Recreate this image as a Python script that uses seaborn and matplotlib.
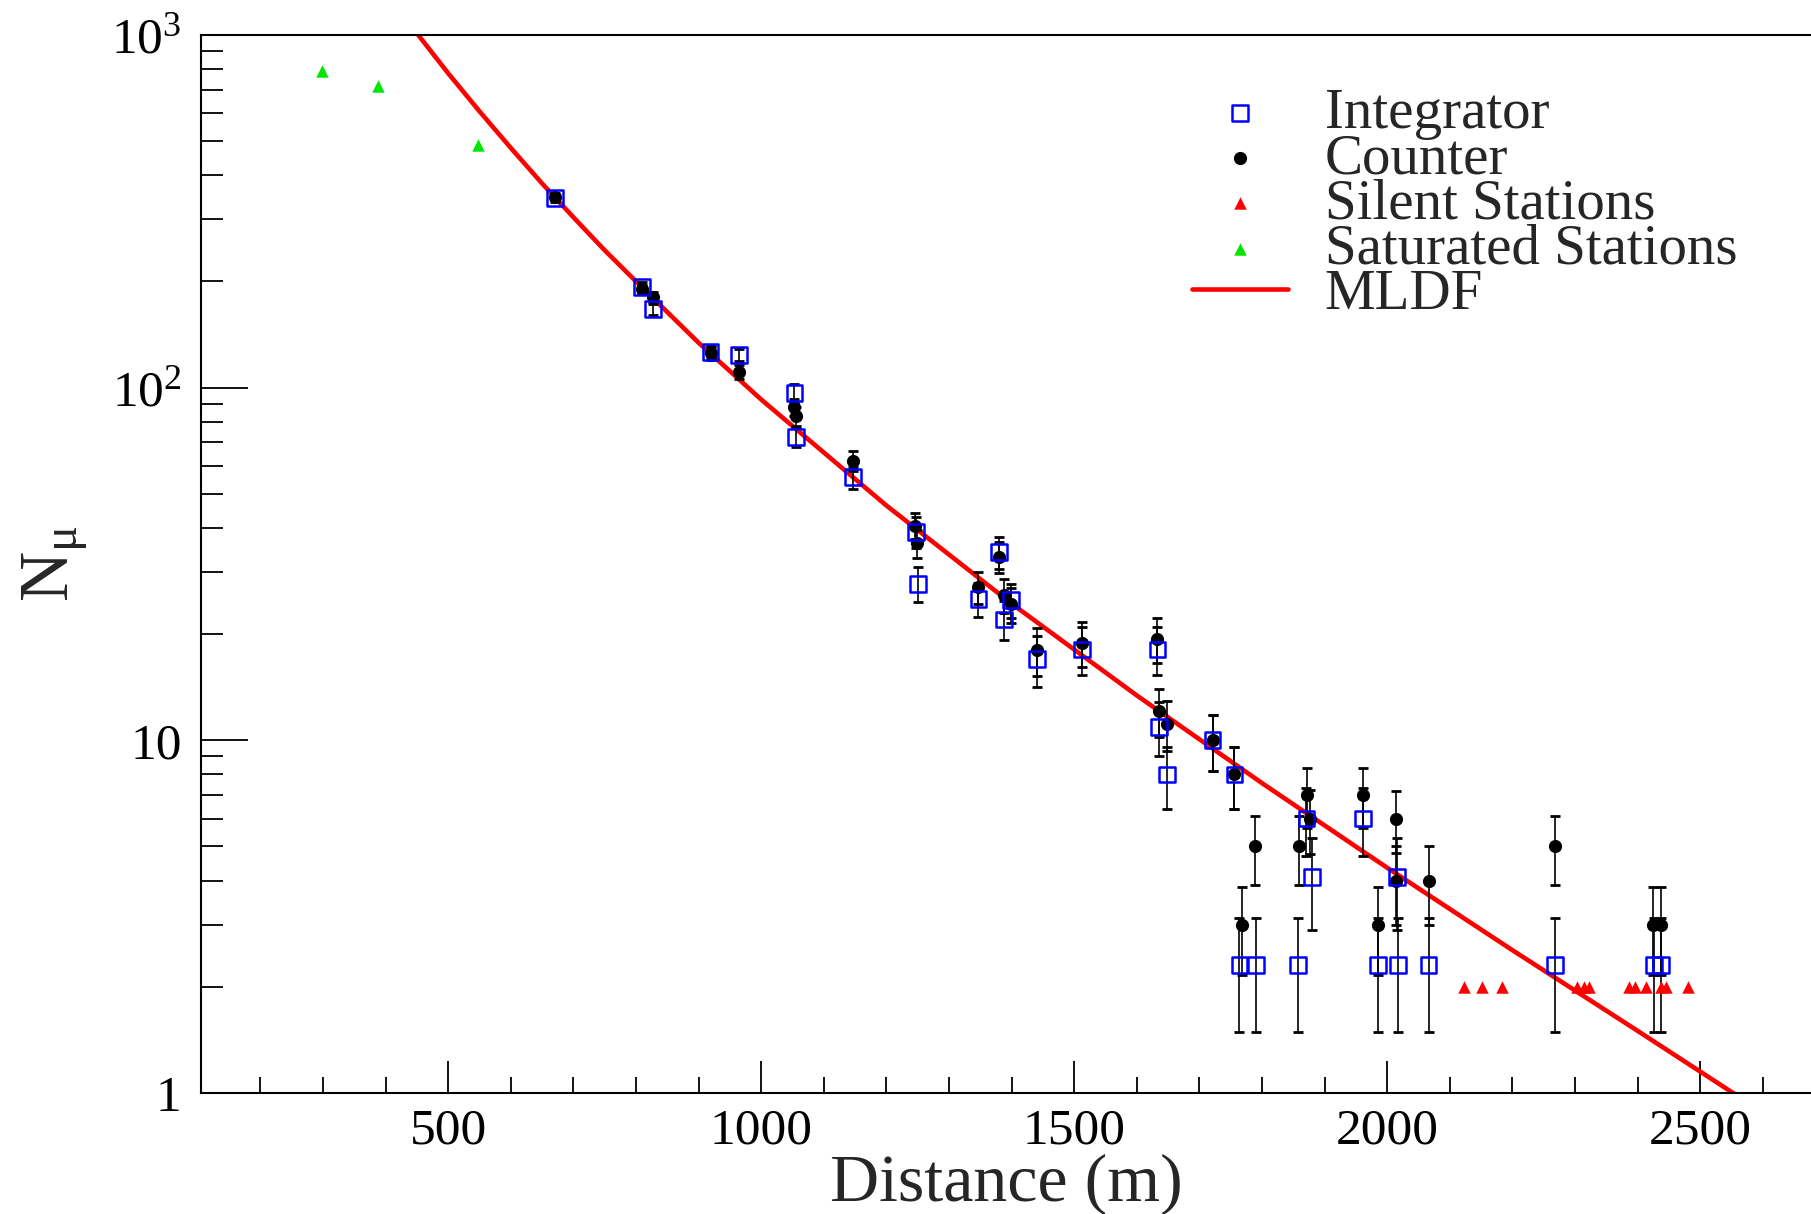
import matplotlib
matplotlib.use("Agg")
import matplotlib.pyplot as plt
import seaborn as sns
from matplotlib.ticker import FixedLocator, FixedFormatter, MultipleLocator, LogLocator, NullFormatter

# Integrator stations (distance in m, muon number, error)
int_dist = [670, 810, 827, 919, 965, 1053, 1055, 1146, 1247, 1251, 1347, 1380, 1388, 1399,
            1441, 1513, 1633, 1635, 1648, 1721, 1756, 1764, 1790, 1858, 1871, 1880, 1961,
            1985, 2015, 2017, 2066, 2268, 2426, 2437]
int_n = [344, 193, 167, 126, 124, 96.6, 72.5, 55.7, 39, 27.8, 25.2, 34.1, 22.0, 25.0,
         17.0, 18.1, 18.1, 10.9, 8.0, 10.0, 8.0, 2.31, 2.31, 2.31, 6.0, 4.1, 6.0,
         2.31, 4.1, 2.31, 2.31, 2.31, 2.31, 2.31]
int_err = [8, 6, 6, 5, 5, 6, 4.5, 4, 4, 3.2, 2.8, 3.5, 2.8, 2.8,
           2.8, 2.8, 2.8, 1.9, 1.6, 1.8, 1.6, 0.82, 0.82, 0.82, 1.3, 1.2, 1.3,
           0.82, 1.2, 0.82, 0.82, 0.82, 0.82, 0.82]

# Counter stations
cnt_dist = [670, 810, 827, 919, 965, 1053, 1055, 1146, 1245, 1249, 1347, 1380, 1388, 1399,
            1441, 1513, 1633, 1635, 1648, 1721, 1756, 1768, 1789, 1859, 1872, 1876, 1961,
            1986, 2014, 2014, 2066, 2268, 2425, 2438]
cnt_n = [348, 190, 181, 125, 111, 88, 83, 62, 40.6, 36.2, 27.2, 33.1, 25.8, 24.3,
         18, 18.9, 19.4, 12.1, 11.1, 10.0, 8.0, 3.0, 5.0, 5.0, 7.0, 6.0, 7.0,
         3.0, 6.0, 4.0, 4.0, 5.0, 3.0, 3.0]
cnt_err = [8, 6, 6, 5, 5, 5, 5, 4, 3.5, 3.3, 2.8, 3.3, 2.8, 2.8,
           2.8, 2.8, 2.8, 1.9, 1.8, 1.8, 1.6, 0.84, 1.1, 1.1, 1.35, 1.25, 1.35,
           0.84, 1.2, 1.0, 1.0, 1.1, 0.84, 0.84]

# Silent and saturated stations
silent_dist = [2123, 2152, 2183, 2303, 2314, 2322, 2387, 2396, 2413, 2438, 2446, 2481]
silent_n = [2.0] * 12
sat_dist = [299, 387, 548]
sat_n = [792, 718, 489]

# MLDF fit
mldf_dist = [452, 500, 550, 600, 650, 700, 750, 800, 900, 1000, 1200, 1400, 1600,
             1800, 2000, 2200, 2400, 2560]
mldf_n = [1000, 778, 607, 478, 379, 304, 245, 200, 134, 92.5, 46.3, 24.4, 13.4,
          7.56, 4.35, 2.54, 1.50, 0.98]

sns.set_theme(style="white")
plt.rcParams['font.family'] = ['Liberation Serif', 'DejaVu Serif']
plt.rcParams['mathtext.fontset'] = 'custom'
plt.rcParams['mathtext.rm'] = 'Liberation Serif'
plt.rcParams['mathtext.it'] = 'Liberation Serif:italic'

fig = plt.figure(figsize=(18.11, 12.14), dpi=100)
ax = fig.add_axes([0.111, 0.0997, 0.889, 0.8715])

sns.lineplot(x=mldf_dist, y=mldf_n, ax=ax, color='#ff0000', linewidth=3.3,
             label='MLDF', zorder=2, sort=False)

ax.errorbar(cnt_dist, cnt_n, yerr=cnt_err, fmt='none', ecolor='black',
            elinewidth=1.2, capsize=3.5, capthick=2, zorder=2.5)
ax.errorbar(int_dist, int_n, yerr=int_err, fmt='none', ecolor='black',
            elinewidth=1.2, capsize=3.5, capthick=2, zorder=2.5)

sns.scatterplot(x=cnt_dist, y=cnt_n, ax=ax, marker='o', color='black',
                edgecolor='black', s=90, linewidth=0, label='Counter', zorder=3)
sns.scatterplot(x=int_dist, y=int_n, ax=ax, marker='s', color='none',
                edgecolor='#0000ff', s=130, linewidth=1.8, label='Integrator', zorder=4)
sns.scatterplot(x=silent_dist, y=silent_n, ax=ax, marker='^', color='#ff0000',
                edgecolor='#ff0000', s=80, linewidth=0, label='Silent Stations', zorder=3)
sns.scatterplot(x=sat_dist, y=sat_n, ax=ax, marker='^', color='#00e600',
                edgecolor='#00e600', s=80, linewidth=0, label='Saturated Stations', zorder=3)

ax.set_yscale('log')
ax.set_xlim(105, 2677)
ax.set_ylim(1, 1000)

ax.xaxis.set_major_locator(MultipleLocator(500))
ax.xaxis.set_minor_locator(MultipleLocator(100))
ax.yaxis.set_major_locator(FixedLocator([1, 10, 100, 1000]))
ax.yaxis.set_major_formatter(FixedFormatter(['1', '10', '$10^{2}$', '$10^{3}$']))
ax.yaxis.set_minor_locator(LogLocator(base=10, subs=range(2, 10)))
ax.yaxis.set_minor_formatter(NullFormatter())

ax.tick_params(which='both', direction='in', width=1.3, colors='black',
               bottom=True, left=True, top=False, right=False, labelsize=37, pad=14)
ax.tick_params(axis='x', which='major', pad=11)
ax.tick_params(axis='y', which='major', length=34)
ax.tick_params(axis='y', which='minor', length=16)
ax.tick_params(axis='x', which='major', length=23)
ax.tick_params(axis='x', which='minor', length=11.5)

for side in ['left', 'bottom', 'top']:
    ax.spines[side].set_color('black')
    ax.spines[side].set_linewidth(1.5)
ax.spines['right'].set_visible(False)

ax.set_xlabel('Distance (m)', fontsize=49)
ax.set_ylabel('N$_{\\mathrm{μ}}$', fontsize=50)
ax.xaxis.set_label_coords(0.5, -0.057)
ax.yaxis.set_label_coords(-0.069, 0.5)

handles, labels = ax.get_legend_handles_labels()
order = ['Integrator', 'Counter', 'Silent Stations', 'Saturated Stations', 'MLDF']
hmap = dict(zip(labels, handles))
ax.legend([hmap[k] for k in order], order, loc='upper left',
          bbox_to_anchor=(1192 / 1811, 1 - 88 / 1214), bbox_transform=fig.transFigure,
          frameon=False, fontsize=41, labelspacing=-0.12, handlelength=1.68,
          handletextpad=0.65, borderpad=0, borderaxespad=0, markerscale=1.0)

fig.savefig('out.png', dpi=100)
